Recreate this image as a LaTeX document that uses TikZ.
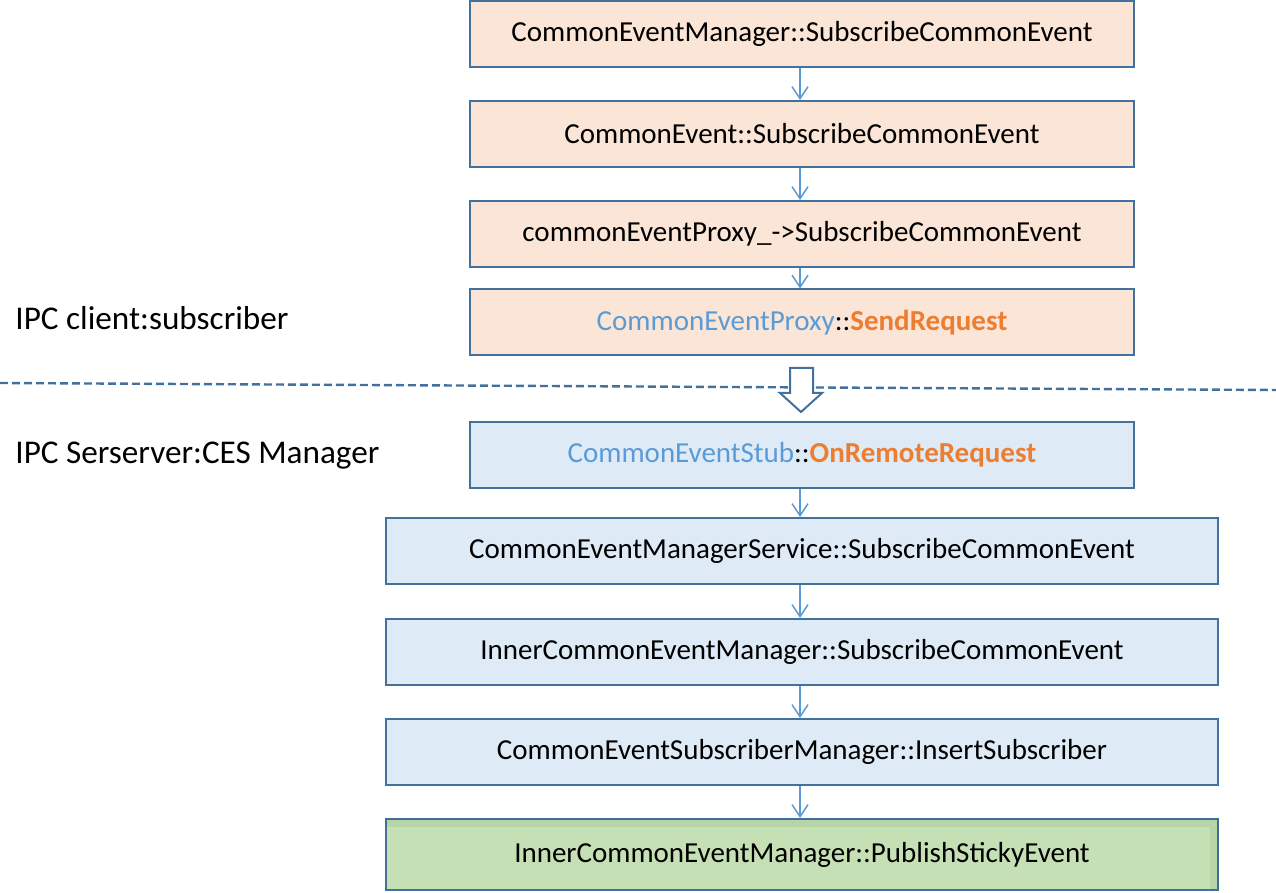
\documentclass[tikz,border=0pt]{standalone}
\usepackage{fontspec}
\setmainfont{Carlito}
\usetikzlibrary{arrows.meta}

\definecolor{boxline}{HTML}{41719C}
\definecolor{peach}{HTML}{FBE5D6}
\definecolor{paleblue}{HTML}{DEEBF7}
\definecolor{palegreen}{HTML}{C5E0B4}
\definecolor{linkblue}{HTML}{5B9BD5}
\definecolor{accent}{HTML}{ED7D31}

\tikzset{
  callbox/.style={draw=boxline,line width=1pt,minimum height=33pt,inner sep=0pt,
    font=\fontsize{14.5}{17}\selectfont},
  client/.style={callbox,fill=peach,minimum width=332pt},
  server/.style={callbox,fill=paleblue,minimum width=416pt},
  flow/.style={draw=linkblue,line width=0.75pt,-{Straight Barb[length=6pt,width=8pt]}},
  side/.style={anchor=west,inner sep=0pt,font=\fontsize{16.6}{20}\selectfont},
}

\begin{document}
\begin{tikzpicture}[x=0.5pt,y=-0.5pt]
  \useasboundingbox (0,0) rectangle (1276,893);

  % client side
  \node[client] (c1) at (802,34) {CommonEventManager::SubscribeCommonEvent};
  \node[client] (c2) at (802,134) {CommonEvent::SubscribeCommonEvent};
  \node[client] (c3) at (802,234) {commonEventProxy\_->SubscribeCommonEvent};
  \node[client] (c4) at (802,322.5) {\textcolor{linkblue}{CommonEventProxy}::\textcolor{accent}{\textbf{SendRequest}}};
  \node[side] (lclient) at (15,318) {IPC client:subscriber};

  % border between the processes
  \draw[boxline,line width=1.2pt,dash pattern=on 4pt off 2pt] (0,383) -- (1276,390);
  \draw[boxline,line width=1pt,fill=white] (790,368) -- (813,368) -- (813,393) -- (822,393)
    -- (801,412) -- (780,393) -- (790,393) -- cycle;

  % server side
  \node[server,minimum width=332pt] (s1) at (802,455) {\textcolor{linkblue}{CommonEventStub}::\textcolor{accent}{\textbf{OnRemoteRequest}}};
  \node[server] (s2) at (802,551) {CommonEventManagerService::SubscribeCommonEvent};
  \node[server] (s3) at (802,652) {InnerCommonEventManager::SubscribeCommonEvent};
  \node[server] (s4) at (802,752) {CommonEventSubscriberManager::InsertSubscriber};
  \node[server,fill=palegreen,minimum height=35.5pt] (s5) at (802,854.5) {InnerCommonEventManager::PublishStickyEvent};
  \node[side] (lserver) at (15,456) {IPC Serserver:CES Manager};

  % soft shadow along the top and right of the last box
  \foreach \i in {1,...,4}
    \draw[black!70!green,opacity=0.07,line width=1.2pt]
      ([xshift=0.5pt,yshift=-\i pt]s5.north west) -- ([xshift=-\i pt,yshift=-\i pt]s5.north east)
      -- ([xshift=-\i pt,yshift=0.5pt]s5.south east);

  \foreach \a/\b in {c1/c2,c2/c3,c3/c4,s1/s2,s2/s3,s3/s4,s4/s5}
    \draw[flow] ([xshift=-1pt]\a.south) -- ([xshift=-1pt]\b.north);
\end{tikzpicture}
\end{document}
